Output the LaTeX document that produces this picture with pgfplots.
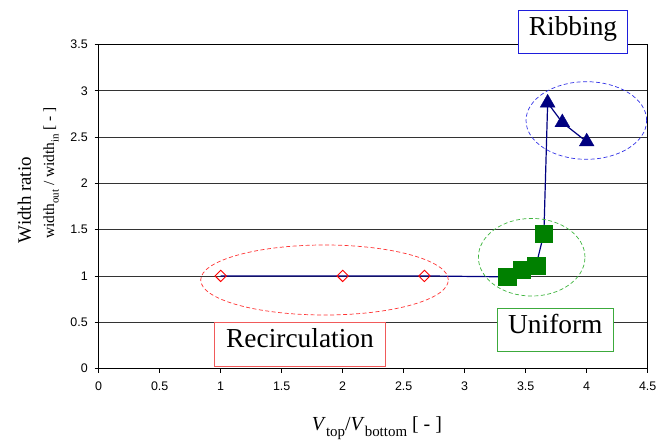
\documentclass[border=0pt]{standalone}
\usepackage{fontspec}
\setmainfont{Liberation Serif}
\setsansfont{Liberation Sans}
\usepackage{pgfplots}
\pgfplotsset{compat=1.18}
\definecolor{navyc}{RGB}{0,0,128}
\definecolor{greenc}{RGB}{0,128,0}
\definecolor{elred}{RGB}{255,50,50}
\definecolor{elgreen}{RGB}{60,180,60}
\definecolor{elblue}{RGB}{50,50,230}
\definecolor{bxred}{RGB}{240,90,90}
\definecolor{bxgreen}{RGB}{60,170,60}
\definecolor{bxblue}{RGB}{30,30,220}
\newcommand{\sub}[2]{\raisebox{-0.3em}{\fontsize{#1}{#1}\selectfont #2}}
\pgfplotstableread{
x y
1 1
2 1
2.67 1
3.35 0.99
3.467 1.066
3.584 1.109
3.649 1.455
3.68 2.87
3.80 2.657
4.0 2.45
}\alldata
\pgfplotstableread{
x y
1 1
2 1
2.67 1
}\recirc
\pgfplotstableread{
x y
3.35 0.99
3.467 1.066
3.584 1.109
3.649 1.455
}\uniform
\pgfplotstableread{
x y
3.68 2.87
3.80 2.657
4.0 2.45
}\ribbing
\begin{document}
\begin{tikzpicture}
\useasboundingbox (-98.7bp,-72.5bp) rectangle (565.3bp,368.5bp);
\begin{axis}[
  at={(0,0)}, anchor=south west, scale only axis,
  width=549bp, height=324bp,
  xmin=0, xmax=4.5, ymin=0, ymax=3.5,
  xtick={0,0.5,1,1.5,2,2.5,3,3.5,4,4.5},
  ytick={0,0.5,1,1.5,2,2.5,3,3.5},
  xtick pos=left, ytick pos=left,
  tick align=outside,
  major tick length=4bp,
  ymajorgrids,
  grid style={black!80, line width=0.8bp},
  axis line style={black, line width=0.9bp},
  tick style={black, line width=0.8bp},
  ticklabel style={font=\sffamily\fontsize{12.5}{14}\selectfont},
  /pgf/number format/assume math mode=true,
  yticklabel style={xshift=-3.5bp},
  xticklabel style={yshift=-6bp},
  clip=false,
]
\addplot[navyc, line width=1.2bp, mark=none] table {\alldata};
\addplot[only marks, mark=square, mark size=4bp,
  mark options={rotate=45, draw=red, fill=white, line width=0.9bp}] table {\recirc};
\addplot[only marks, mark=square*, mark size=8.8bp, color=greenc] table {\uniform};
\addplot[only marks, mark=triangle*, mark size=8.5bp, color=navyc] table {\ribbing};

\draw[elred, line width=0.7bp, dash pattern=on 4bp off 2.5bp] (axis cs:1.851,0.956) ellipse [x radius=123.8bp, y radius=35bp];
\draw[elgreen, line width=0.7bp, dash pattern=on 4bp off 2.5bp] (axis cs:3.549,1.202) ellipse [x radius=53.3bp, y radius=38.8bp];
\draw[elblue, line width=0.7bp, dash pattern=on 4bp off 2.5bp] (axis cs:3.997,2.679) ellipse [x radius=60.3bp, y radius=38.8bp];

\node[draw=bxblue, fill=white, line width=1bp, minimum width=109.4bp, minimum height=43.3bp, inner sep=0pt,
  text height=0.66em, text depth=0pt, font=\fontsize{27.5}{30}\selectfont] at (axis cs:3.888,3.632) {Ribbing};
\node[draw=bxgreen, fill=white, line width=1bp, minimum width=116bp, minimum height=43.4bp, inner sep=0pt,
  text height=0.66em, text depth=0pt, font=\fontsize{27.5}{30}\selectfont] at (axis cs:3.743,0.416) {Uniform};
\node[draw=bxred, fill=white, line width=1bp, minimum width=170bp, minimum height=43.7bp, inner sep=0pt,
  text height=0.66em, text depth=0pt, font=\fontsize{27.5}{30}\selectfont] at (axis cs:1.65,0.263) {Recirculation};

\node[rotate=90, anchor=base west, inner sep=0pt, font=\fontsize{19}{20}\selectfont] at (axis cs:-0.555,1.353) {Width ratio};
\node[rotate=90, anchor=base west, inner sep=0pt, font=\fontsize{15.5}{20}\selectfont] at (axis cs:-0.366,1.399) {width\sub{11}{out} / width\sub{11}{in} [ - ]};
\node[anchor=base, inner sep=0pt, font=\fontsize{20}{24}\selectfont] at (axis cs:2.281,-0.672) {\textit{V}\sub{15}{top}/\textit{V}\sub{15}{bottom} [ - ]};
\end{axis}
\end{tikzpicture}
\end{document}
